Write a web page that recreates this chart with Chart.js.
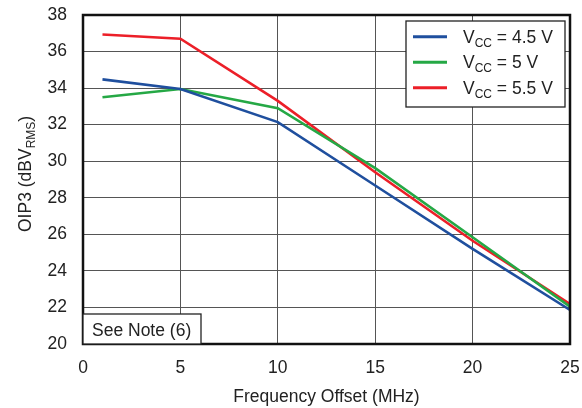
<!DOCTYPE html>
<html>
<head>
<meta charset="utf-8">
<script src="https://cdn.jsdelivr.net/npm/chart.js@4"></script>
<style>
  html, body { margin: 0; padding: 0; background: #fff; }
  canvas { display: block; }
</style>
</head>
<body>
<canvas id="oip3" width="582" height="408"></canvas>
<script>
// OIP3 vs frequency offset, one line per supply voltage
const freqMHz = [1, 5, 10, 15, 20, 25];
const oip3Vcc45 = [34.48, 33.95, 32.14, 28.67, 25.2, 21.86];
const oip3Vcc5 = [33.5, 33.95, 32.9, 29.62, 25.84, 22.04];
const oip3Vcc55 = [36.93, 36.7, 33.3, 29.4, 25.65, 22.19];
const vccLabels = ["4.5 V", "5 V", "5.5 V"];
const xTicks = [0, 5, 10, 15, 20, 25];
const yTicks = [20, 22, 24, 26, 28, 30, 32, 34, 36, 38];

const FONT = "'Liberation Sans', Arial, Helvetica, sans-serif";
const colors = ["#1f4f9e", "#25a845", "#ec1f28"];

function toPoints(ys) {
  return freqMHz.map((x, i) => ({ x: x, y: ys[i] }));
}

// text with a subscript part, e.g. V + CC
function drawSubText(ctx, x, y, parts) {
  let cx = x;
  parts.forEach((p) => {
    ctx.font = (p.sub ? "12px " : "17.5px ") + FONT;
    ctx.fillText(p.t, cx, y + (p.sub ? 4 : 0));
    cx += ctx.measureText(p.t).width;
  });
}

const extras = {
  id: "extras",
  afterDatasetsDraw(chart) {
    const { ctx, chartArea: a } = chart;
    ctx.save();
    // heavy frame round the plot
    ctx.strokeStyle = "#111";
    ctx.lineWidth = 2.5;
    ctx.strokeRect(a.left, a.top, a.right - a.left, a.bottom - a.top);
    ctx.restore();
  },
  afterDraw(chart) {
    const { ctx, chartArea: a } = chart;
    ctx.save();
    ctx.fillStyle = "#222";
    ctx.textBaseline = "alphabetic";
    ctx.textAlign = "left";

    // y axis title
    ctx.save();
    ctx.translate(31, 232);
    ctx.rotate(-Math.PI / 2);
    drawSubText(ctx, 0, 0, [{ t: "OIP3 (dBV" }, { t: "RMS", sub: true }, { t: ")" }]);
    ctx.restore();

    // legend
    const lx = 406, ly = 21, lw = 159, lh = 86;
    ctx.fillStyle = "#fff";
    ctx.fillRect(lx, ly, lw, lh);
    ctx.strokeStyle = "#222";
    ctx.lineWidth = 1.3;
    ctx.strokeRect(lx, ly, lw, lh);
    chart.data.datasets.forEach((ds, i) => {
      const y = 36.7 + 25.5 * i;
      ctx.strokeStyle = ds.borderColor;
      ctx.lineWidth = 3;
      ctx.beginPath();
      ctx.moveTo(413, y);
      ctx.lineTo(447, y);
      ctx.stroke();
      ctx.fillStyle = "#222";
      drawSubText(ctx, 463, y + 6, [{ t: "V" }, { t: "CC", sub: true }, { t: " = " + vccLabels[i] }]);
    });

    // note box in the lower left corner
    ctx.fillStyle = "#fff";
    ctx.fillRect(a.left, 314, 118, a.bottom - 314);
    ctx.strokeStyle = "#222";
    ctx.lineWidth = 1.3;
    ctx.strokeRect(a.left, 314, 118, a.bottom - 314);
    ctx.fillStyle = "#222";
    ctx.font = "17.5px " + FONT;
    ctx.fillText("See Note (6)", a.left + 9, 336);
    ctx.restore();
  },
};

new Chart(document.getElementById("oip3"), {
  type: "line",
  data: {
    datasets: [oip3Vcc45, oip3Vcc5, oip3Vcc55].map((ys, i) => ({
      label: "VCC = " + vccLabels[i],
      data: toPoints(ys),
      borderColor: colors[i],
      backgroundColor: colors[i],
      borderWidth: 2.6,
      pointRadius: 0,
      tension: 0,
    })),
  },
  options: {
    responsive: false,
    animation: false,
    layout: { padding: { top: 15, right: 12, left: 0, bottom: 0 } },
    plugins: { legend: { display: false }, tooltip: { enabled: false } },
    scales: {
      x: {
        type: "linear",
        min: 0,
        max: 25,
        afterBuildTicks: (s) => { s.ticks = xTicks.map((v) => ({ value: v })); },
        afterFit: (s) => {
          s.height = 64;
          s.paddingLeft = 0;
          s.paddingRight = 0;
        },
        grid: { color: "#555", lineWidth: 1, drawTicks: false },
        border: { display: false },
        ticks: { padding: 14, color: "#222", font: { family: FONT, size: 17.5 }, maxRotation: 0 },
        title: {
          display: true,
          text: "Frequency Offset (MHz)",
          color: "#222",
          font: { family: FONT, size: 17.5 },
          padding: { top: 0, bottom: 0 },
        },
      },
      y: {
        min: 20,
        max: 38,
        afterBuildTicks: (s) => { s.ticks = yTicks.map((v) => ({ value: v })); },
        afterFit: (s) => {
          s.width = 83;
          s.paddingTop = 0;
          s.paddingBottom = 0;
        },
        grid: { color: "#555", lineWidth: 1, drawTicks: false },
        border: { display: false },
        ticks: { padding: 16, color: "#222", font: { family: FONT, size: 17.5 } },
      },
    },
  },
  plugins: [extras],
});
</script>
</body>
</html>
